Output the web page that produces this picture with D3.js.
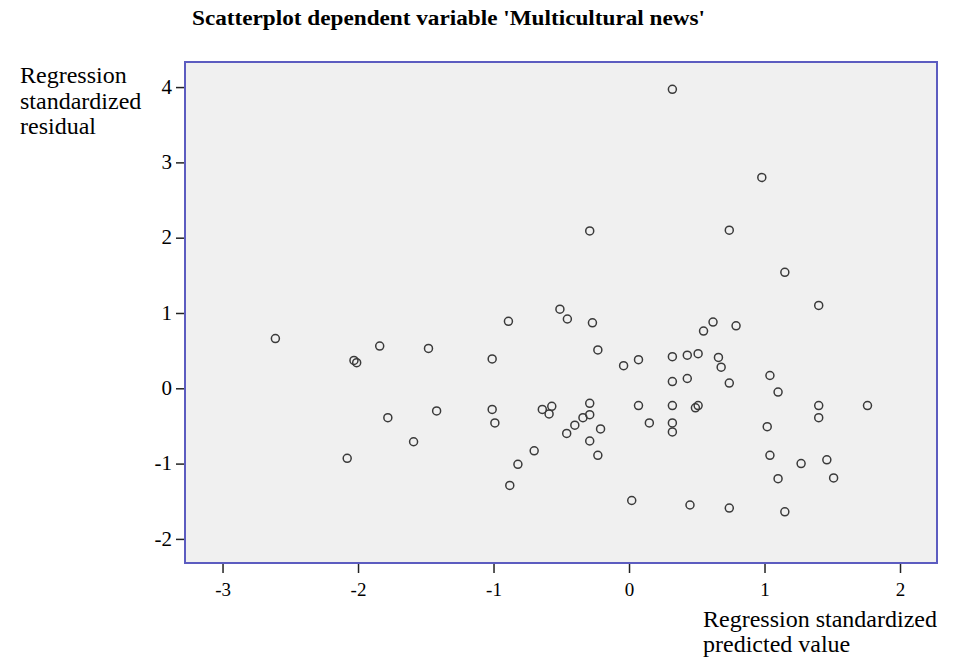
<!DOCTYPE html>
<html>
<head>
<meta charset="utf-8">
<script src="https://cdn.jsdelivr.net/npm/d3@7"></script>
<style>
  body { margin: 0; background: #fff; }
  text { font-family: "Liberation Serif", "Times New Roman", serif; fill: #000; }
</style>
</head>
<body>
<div id="scatter"></div>
<script>
// standardized predicted value (x) and standardized residual (y)
var predicted = [
    0.32, 0.98, -0.29, 0.74, 1.15, 1.40, -0.51, -0.455, -0.27, -0.23,
    -2.61, -0.89, -1.84, -1.48, -2.03, -2.01, -1.01, -1.78, -1.42, -1.01,
    -0.99, -1.59, -2.08, -0.70, -0.82, -0.88, -0.64, -0.57, -0.59,
    0.62, 0.55, 0.79, -0.04, 0.07, 0.32, 0.43, 0.51, 0.66, 0.68,
    0.32, 0.43, 0.74, 1.04, 1.10,
    -0.29, -0.29, -0.34, -0.40, -0.46, -0.21, -0.29, -0.23,
    0.07, 0.15, 0.32, 0.32, 0.32, 0.49, 0.51,
    1.40, 1.40, 1.76, 1.02, 1.04, 1.27, 1.46, 1.10, 1.51,
    0.02, 0.45, 0.74, 1.15
];
var residual = [
    3.97, 2.80, 2.09, 2.10, 1.54, 1.10, 1.05, 0.92, 0.87, 0.51,
    0.66, 0.89, 0.56, 0.53, 0.37, 0.34, 0.39, -0.39, -0.30, -0.28,
    -0.46, -0.71, -0.93, -0.83, -1.01, -1.29, -0.28, -0.24, -0.34,
    0.88, 0.76, 0.83, 0.30, 0.38, 0.42, 0.44, 0.46, 0.41, 0.28,
    0.09, 0.13, 0.07, 0.17, -0.05,
    -0.20, -0.35, -0.39, -0.49, -0.60, -0.54, -0.70, -0.89,
    -0.23, -0.46, -0.23, -0.46, -0.58, -0.26, -0.23,
    -0.23, -0.39, -0.23, -0.51, -0.89, -1.00, -0.95, -1.20, -1.19,
    -1.49, -1.55, -1.59, -1.64
];
var xTicks = [-3, -2, -1, 0, 1, 2];
var yTicks = [-2, -1, 0, 1, 2, 3, 4];

var data = predicted.map(function (p, i) {
    return { x: p, y: residual[i] };
});

var margin = { top: 62, right: 18, bottom: 99, left: 185 };
var width = 955 - margin.left - margin.right;
var height = 662 - margin.top - margin.bottom;

var x = d3.scaleLinear().domain([-3.277, 2.273]).range([0, width]);
var y = d3.scaleLinear().domain([-2.32, 4.333]).range([height, 0]);

// plain hyphen like the original, not the unicode minus
var fmt = function (d) { return String(d); };

var svg = d3.select("#scatter").append("svg")
    .attr("width", 955)
    .attr("height", 662);

svg.append("text")
    .attr("x", 192)
    .attr("y", 25)
    .attr("textLength", 513)
    .attr("lengthAdjust", "spacingAndGlyphs")
    .style("font-size", "20px")
    .style("font-weight", "bold")
    .text("Scatterplot dependent variable 'Multicultural news'");

var g = svg.append("g")
    .attr("transform", "translate(" + margin.left + "," + margin.top + ")");

g.append("rect")
    .attr("width", width)
    .attr("height", height)
    .attr("fill", "#f0f0f0");

var xAxis = g.append("g")
    .attr("transform", "translate(0," + height + ")")
    .call(d3.axisBottom(x).tickValues(xTicks).tickSize(10).tickPadding(9).tickFormat(fmt));

var yAxis = g.append("g")
    .call(d3.axisLeft(y).tickValues(yTicks).tickSize(9).tickPadding(4).tickFormat(fmt));

[xAxis, yAxis].forEach(function (a) {
    a.select(".domain").remove();
    a.selectAll("line").attr("stroke", "#222").attr("stroke-width", 1.5);
    a.selectAll("text")
        .style("font-family", "'Liberation Serif', serif")
        .attr("fill", "#000");
});
xAxis.selectAll("text").style("font-size", "19px").attr("dy", "0.75em");
yAxis.selectAll("text").style("font-size", "21px").attr("dy", "0.3em");

g.selectAll(".dot")
    .data(data)
    .enter().append("circle")
    .attr("class", "dot")
    .attr("cx", function (d) { return x(d.x); })
    .attr("cy", function (d) { return y(d.y); })
    .attr("r", 4)
    .attr("fill", "none")
    .attr("stroke", "#3a3a3a")
    .attr("stroke-width", 1.5);

// plot frame
g.append("rect")
    .attr("width", width)
    .attr("height", height)
    .attr("fill", "none")
    .attr("stroke", "#5c5cc0")
    .attr("stroke-width", 2);

var yTitle = svg.append("text")
    .attr("x", 20)
    .attr("y", 83)
    .style("font-size", "24px");
["Regression", "standardized", "residual"].forEach(function (t, i) {
    yTitle.append("tspan").attr("x", 20).attr("dy", i == 0 ? 0 : 25.5).text(t);
});

var xTitle = svg.append("text")
    .attr("x", 703)
    .attr("y", 627)
    .style("font-size", "24px");
["Regression standardized", "predicted value"].forEach(function (t, i) {
    xTitle.append("tspan").attr("x", 703).attr("dy", i == 0 ? 0 : 25).text(t);
});
</script>
</body>
</html>
